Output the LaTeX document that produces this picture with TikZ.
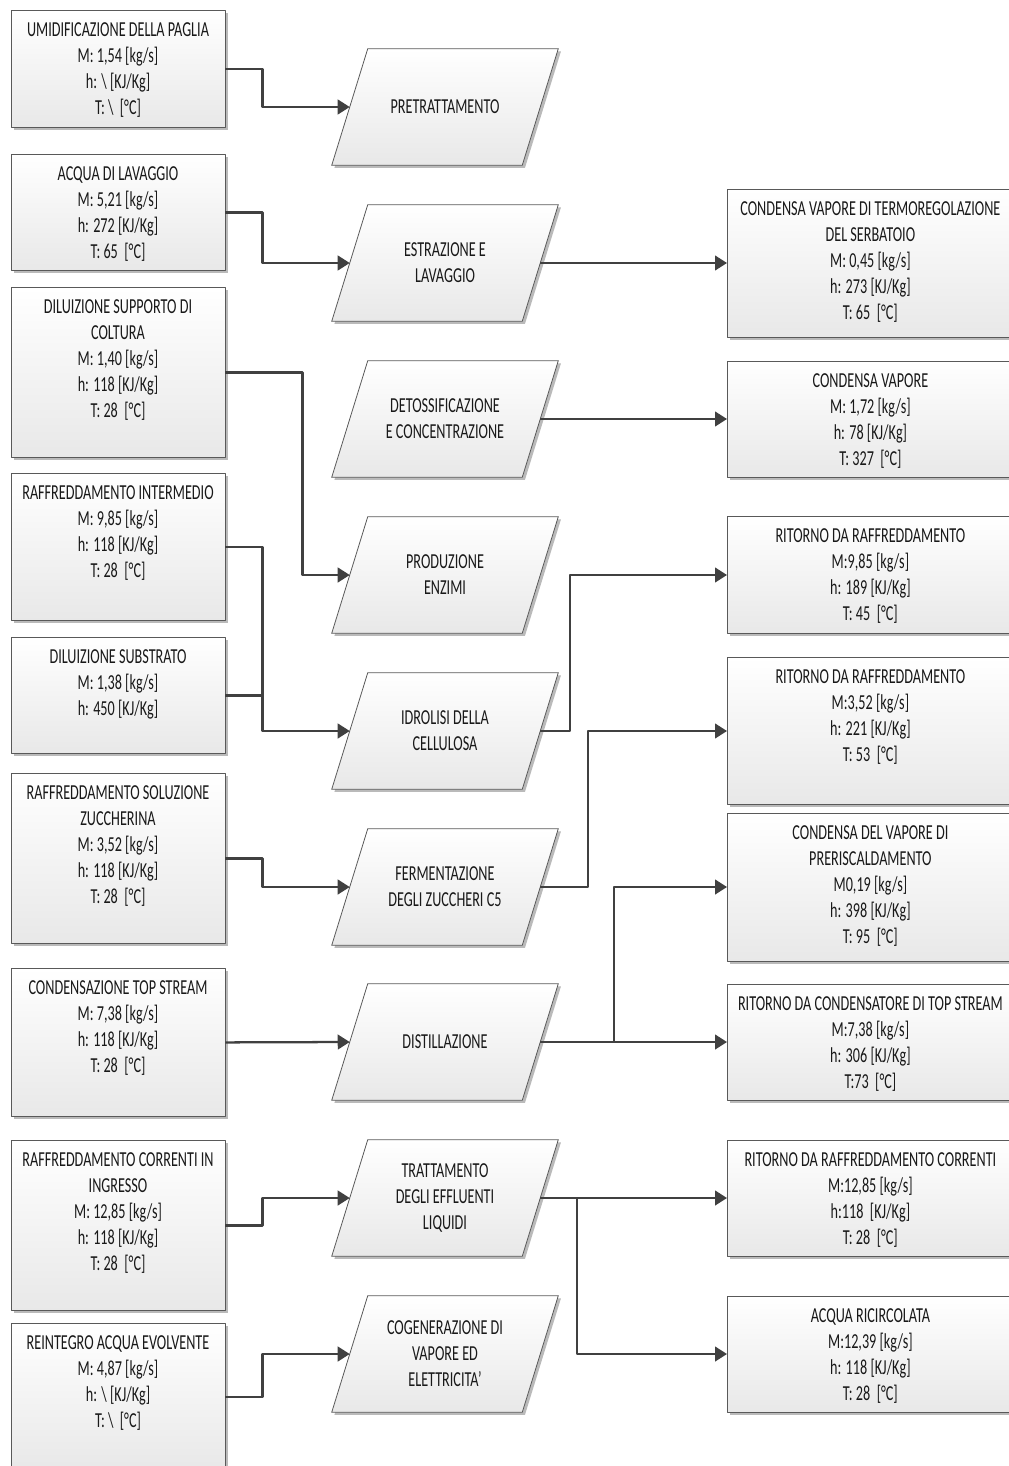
\documentclass[tikz,border=0pt]{standalone}
\usepackage{fontspec}
\setmainfont{Carlito}[FakeStretch=0.665]
\usetikzlibrary{arrows.meta,shadows,backgrounds}

\begin{document}
\begin{tikzpicture}[
		x = 0.75pt,
		y = -0.75pt,
		line join = round,
		> = {Triangle[length=9pt,width=11pt]},
		font = \fontsize{16pt}{19.5pt}\selectfont,
		ombra/.style = {drop shadow={shadow xshift=2pt, shadow yshift=-2pt, fill=black!45, opacity=.6}},
		blocco/.style = {draw=black!65, line width=.6pt, top color=white, bottom color=black!9, ombra,
			text=black!90, align=flush center, execute at begin node={\spaceskip=0pt\xspaceskip=0pt},
			inner sep=0pt, text height=19.5pt, text depth=#1},
		ingresso/.style = {blocco=#1, text width=160.5pt, anchor=north},
		uscita/.style = {blocco=#1, text width=214.5pt, anchor=west},
		fase/.style = {minimum width=142.5pt, minimum height=87pt, inner sep=0pt, align=center, text=black!90},
		bordofase/.style = {draw=black!65, line width=.6pt, top color=white, bottom color=black!9, ombra},
		flusso/.style = {->, draw=black!75, line width=1.7pt},
		]
\useasboundingbox (0,0) rectangle (1008,1466);

\node[ingresso=68.25pt]	(umidif)	at (118,10)	{UMIDIFICAZIONE DELLA PAGLIA\\M: 1,54 [kg/s]\\h: \textbackslash{} [KJ/Kg]\\T: \textbackslash\ \ [°C]};
\node[ingresso=67.5pt]	(lavaggio)	at (118,154)	{ACQUA DI LAVAGGIO\\M: 5,21 [kg/s]\\h: 272 [KJ/Kg]\\T: 65\ \ [°C]};
\node[ingresso=108pt]	(supporto)	at (118,287)	{DILUIZIONE SUPPORTO DI\\COLTURA\\M: 1,40 [kg/s]\\h: 118 [KJ/Kg]\\T: 28\ \ [°C]};
\node[ingresso=90.75pt]	(raffint)	at (118,473)	{RAFFREDDAMENTO INTERMEDIO\\M: 9,85 [kg/s]\\h: 118 [KJ/Kg]\\T: 28\ \ [°C]};
\node[ingresso=67.5pt]	(substr)	at (118,637)	{DILUIZIONE SUBSTRATO\\M: 1,38 [kg/s]\\h: 450 [KJ/Kg]};
\node[ingresso=108pt]	(zucch)		at (118,773)	{RAFFREDDAMENTO SOLUZIONE\\ZUCCHERINA\\M: 3,52 [kg/s]\\h: 118 [KJ/Kg]\\T: 28\ \ [°C]};
\node[ingresso=91.5pt]	(topstream)	at (118,968)	{CONDENSAZIONE TOP STREAM\\M: 7,38 [kg/s]\\h: 118 [KJ/Kg]\\T: 28\ \ [°C]};
\node[ingresso=108pt]	(correnti)	at (118,1140)	{RAFFREDDAMENTO CORRENTI IN\\INGRESSO\\M: 12,85 [kg/s]\\h: 118 [KJ/Kg]\\T: 28\ \ [°C]};
\node[ingresso=90.75pt]	(reintegro)	at (118,1323)	{REINTEGRO ACQUA EVOLVENTE\\M: 4,87 [kg/s]\\h: \textbackslash{} [KJ/Kg]\\T: \textbackslash\ \ [°C]};

\node[fase]	(pretr)		at (445,107)	{PRETRATTAMENTO};
\node[fase]	(estraz)	at (445,263)	{ESTRAZIONE E\\LAVAGGIO};
\node[fase]	(detox)		at (445,419)	{DETOSSIFICAZIONE\\E CONCENTRAZIONE};
\node[fase]	(enzimi)	at (445,575)	{PRODUZIONE\\ENZIMI};
\node[fase]	(idrolisi)	at (445,731)	{IDROLISI DELLA\\CELLULOSA};
\node[fase]	(ferment)	at (445,887)	{FERMENTAZIONE\\DEGLI ZUCCHERI C5};
\node[fase]	(distill)	at (445,1042)	{DISTILLAZIONE};
\node[fase]	(tratt)		at (445,1198)	{TRATTAMENTO\\DEGLI EFFLUENTI\\LIQUIDI};
\node[fase]	(cogen)		at (445,1354)	{COGENERAZIONE DI\\VAPORE ED\\ELETTRICITA’};

\begin{scope}[on background layer]
\foreach \f in {pretr,estraz,detox,enzimi,idrolisi,ferment,distill,tratt,cogen}
	\path[bordofase]	([xshift=-13.5pt]\f.south west) -- ([xshift=-13.5pt]\f.south east)
				-- ([xshift=13.5pt]\f.north east) -- ([xshift=13.5pt]\f.north west) -- cycle;
\end{scope}

\node[uscita=91.5pt]	(condserb)	at (727,263)	{CONDENSA VAPORE DI TERMOREGOLAZIONE\\DEL SERBATOIO\\M: 0,45 [kg/s]\\h: 273 [KJ/Kg]\\T: 65\ \ [°C]};
\node[uscita=67.5pt]	(condvap)	at (727,419)	{CONDENSA VAPORE\\M: 1,72 [kg/s]\\h: 78 [KJ/Kg]\\T: 327\ \ [°C]};
\node[uscita=68.25pt]	(ritraff)	at (727,575)	{RITORNO DA RAFFREDDAMENTO\\M:9,85 [kg/s]\\h: 189 [KJ/Kg]\\T: 45\ \ [°C]};
\node[uscita=90.75pt]	(ritzucch)	at (727,731)	{RITORNO DA RAFFREDDAMENTO\\M:3,52 [kg/s]\\h: 221 [KJ/Kg]\\T: 53\ \ [°C]};
\node[uscita=91.5pt]	(condpre)	at (727,887)	{CONDENSA DEL VAPORE DI\\PRERISCALDAMENTO\\M0,19 [kg/s]\\h: 398 [KJ/Kg]\\T: 95\ \ [°C]};
\node[uscita=67.5pt]	(rittop)	at (727,1042)	{RITORNO DA CONDENSATORE DI TOP STREAM\\M:7,38 [kg/s]\\h: 306 [KJ/Kg]\\T:73\ \ [°C]};
\node[uscita=67.5pt]	(ritcorr)	at (727,1198)	{RITORNO DA RAFFREDDAMENTO CORRENTI\\M:12,85 [kg/s]\\h:118\ \ [KJ/Kg]\\T: 28\ \ [°C]};
\node[uscita=67.5pt]	(ricirc)	at (727,1354)	{ACQUA RICIRCOLATA\\M:12,39 [kg/s]\\h: 118 [KJ/Kg]\\T: 28\ \ [°C]};

\draw[flusso]	(umidif.east) -- ++(37,0) |- (pretr.west);
\draw[flusso]	(lavaggio.east) -- ++(37,0) |- (estraz.west);
\draw[flusso]	(supporto.east) -- ++(77,0) |- (enzimi.west);
\draw[flusso]	(raffint.east) -- ++(37,0) |- (idrolisi.west);
\draw[flusso,-]	(substr.east) -- ++(37,0);
\draw[flusso]	(zucch.east) -- ++(37,0) |- (ferment.west);
\draw[flusso]	(topstream.east) -- (distill.west);
\draw[flusso]	(correnti.east) -- ++(37,0) |- (tratt.west);
\draw[flusso]	(reintegro.east) -- ++(37,0) |- (cogen.west);

\draw[flusso]	(estraz.east) -- (condserb.west);
\draw[flusso]	(detox.east) -- (condvap.west);
\draw[flusso]	(idrolisi.east) -- ++(30,0) |- (ritraff.west);
\draw[flusso]	(ferment.east) -- ++(48,0) |- (ritzucch.west);
\draw[flusso]	(distill.east) -- (rittop.west);
\draw[flusso]	(distill.east) ++(74,0) |- (condpre.west);
\draw[flusso]	(tratt.east) -- (ritcorr.west);
\draw[flusso]	(tratt.east) ++(37,0) |- (ricirc.west);
\end{tikzpicture}
\end{document}
